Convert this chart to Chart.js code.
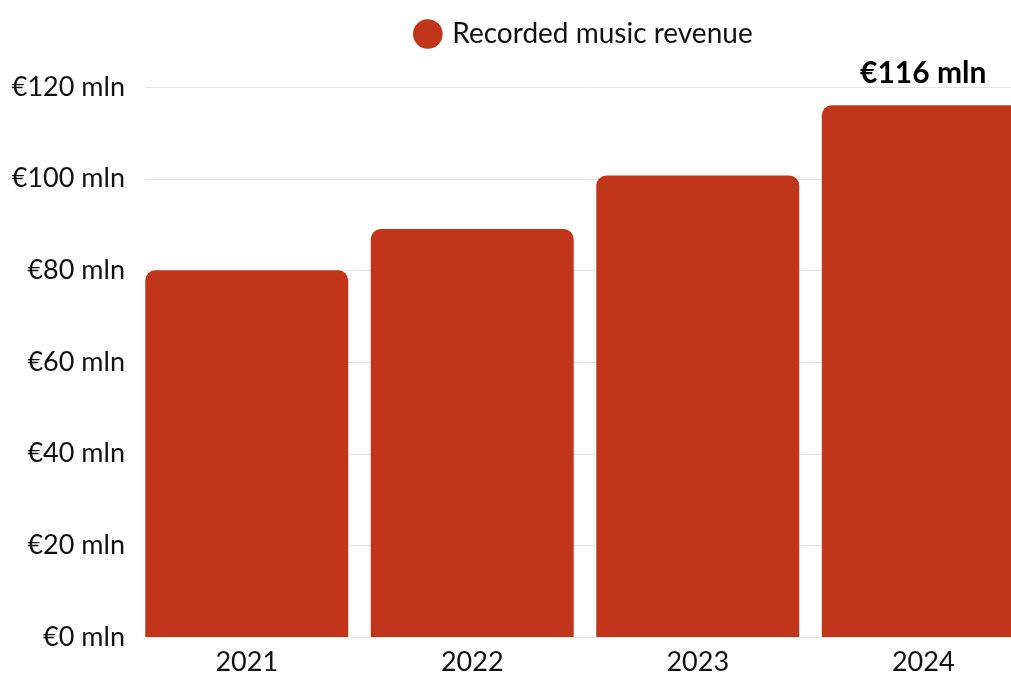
<!DOCTYPE html>
<html>
<head>
<meta charset="utf-8">
<script src="https://cdn.jsdelivr.net/npm/chart.js@4"></script>
<style>
  html, body { margin: 0; padding: 0; background: #fff; overflow: hidden; }
  #wrap { width: 1011px; height: 675px; overflow: hidden; }
  canvas { display: block; }
</style>
</head>
<body>
<div id="wrap"><canvas id="chart" width="1036" height="675"></canvas></div>
<script>
// Recorded music revenue per year, in million euro
const years = ['2021', '2022', '2023', '2024'];
const revenue = [80, 89, 100.7, 116];
const yTicks = [0, 20, 40, 60, 80, 100, 120];

const FONT = "Lato, 'Open Sans', sans-serif";
const BAR = '#C1361A';

// Horizontal grid lines that begin at the left edge of the first bar
const gridFromFirstBar = {
  id: 'gridFromFirstBar',
  beforeDatasetsDraw(chart) {
    const { ctx, chartArea, scales } = chart;
    const bar = chart.getDatasetMeta(0).data[0];
    const left = bar.x - bar.width / 2;
    ctx.save();
    ctx.strokeStyle = '#e3e3e3';
    ctx.lineWidth = 1;
    yTicks.forEach(v => {
      const y = Math.round(scales.y.getPixelForValue(v)) + 0.5;
      ctx.beginPath();
      ctx.moveTo(left, y);
      ctx.lineTo(chartArea.right, y);
      ctx.stroke();
    });
    ctx.restore();
  }
};

// Extra room between the legend and the plot
const legendGap = {
  id: 'legendGap',
  afterInit(chart) {
    const legend = chart.legend;
    const fit = legend.fit;
    legend.fit = function () {
      fit.call(this);
      this.height += 29;
    };
  }
};

// Bold value label over the latest year
const lastValueLabel = {
  id: 'lastValueLabel',
  afterDatasetsDraw(chart) {
    const { ctx } = chart;
    const meta = chart.getDatasetMeta(0);
    const i = revenue.length - 1;
    const bar = meta.data[i];
    ctx.save();
    ctx.font = "bold 30px " + FONT;
    ctx.fillStyle = '#000';
    ctx.textAlign = 'center';
    ctx.textBaseline = 'middle';
    ctx.fillText('€' + revenue[i] + ' mln', bar.x, bar.y - 32);
    ctx.restore();
  }
};

new Chart(document.getElementById('chart'), {
  type: 'bar',
  data: {
    labels: years,
    datasets: [{
      label: 'Recorded music revenue',
      data: revenue,
      backgroundColor: BAR,
      borderWidth: 0,
      borderRadius: { topLeft: 10, topRight: 10, bottomLeft: 0, bottomRight: 0 },
      borderSkipped: 'start',
      categoryPercentage: 1,
      barPercentage: 0.9
    }]
  },
  options: {
    responsive: false,
    animation: false,
    layout: { padding: { left: 0, right: 0, top: 0, bottom: 0 } },
    plugins: {
      tooltip: { enabled: false },
      legend: {
        display: true,
        position: 'top',
        fullSize: false,
        labels: {
          usePointStyle: true,
          pointStyle: 'circle',
          boxWidth: 21,
          boxHeight: 21,
          padding: 20,
          color: '#111',
          font: { family: FONT, size: 28 }
        }
      }
    },
    scales: {
      x: {
        afterFit(scale) { scale.height = 38; },
        grid: { display: false, drawTicks: false },
        border: { display: false },
        ticks: {
          color: '#111',
          padding: 9,
          font: { family: FONT, size: 27 }
        }
      },
      y: {
        min: 0,
        max: 120,
        afterBuildTicks(scale) { scale.ticks = yTicks.map(v => ({ value: v })); },
        afterFit(scale) { scale.width = 134; },
        grid: { display: false, drawTicks: false },
        border: { display: false },
        ticks: {
          color: '#111',
          padding: 9,
          font: { family: FONT, size: 27 },
          callback: v => '€' + v + ' mln'
        }
      }
    }
  },
  plugins: [gridFromFirstBar, legendGap, lastValueLabel]
});
</script>
</body>
</html>
